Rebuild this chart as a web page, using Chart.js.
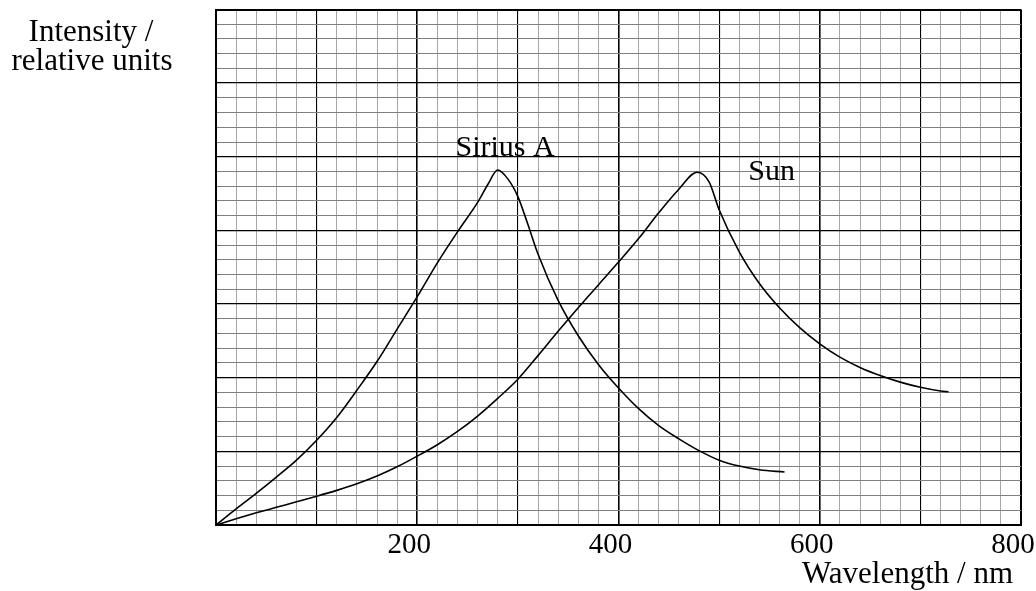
<!DOCTYPE html>
<html>
<head>
    <title>Intensity vs wavelength</title>
    <script src="https://cdn.jsdelivr.net/npm/chart.js"></script>
    <style>
        html, body { margin: 0; padding: 0; background: #fff; }
        #wrap { width: 1036px; height: 591px; position: relative; }
    </style>
</head>
<body>
    <div id="wrap"><canvas id="spectrum"></canvas></div>

    <script>
        // values
        const siriusX = [0, 20, 40, 60, 80, 100, 120, 140, 160, 180, 200, 220, 240, 260, 270, 280, 290, 300, 310, 320, 340, 360, 380, 400, 420, 440, 460, 480, 500, 520, 540, 565];
        const siriusY = [0, 0.22, 0.43, 0.65, 0.88, 1.15, 1.46, 1.83, 2.22, 2.66, 3.10, 3.56, 3.98, 4.38, 4.62, 4.82, 4.70, 4.46, 4.08, 3.68, 3.05, 2.57, 2.18, 1.86, 1.58, 1.35, 1.17, 1.01, 0.88, 0.80, 0.75, 0.72];

        const sunX = [0, 20, 40, 60, 80, 100, 120, 140, 160, 180, 200, 220, 240, 260, 280, 300, 320, 340, 360, 380, 400, 420, 440, 460, 478, 490, 500, 520, 540, 560, 580, 600, 620, 640, 660, 680, 700, 720, 728];
        const sunY = [0, 0.085, 0.165, 0.24, 0.315, 0.39, 0.47, 0.56, 0.665, 0.79, 0.935, 1.09, 1.27, 1.48, 1.72, 1.98, 2.30, 2.63, 2.95, 3.26, 3.57, 3.89, 4.24, 4.56, 4.79, 4.66, 4.28, 3.71, 3.28, 2.95, 2.68, 2.46, 2.28, 2.14, 2.03, 1.94, 1.87, 1.82, 1.81];

        const xLabels = [200, 400, 600, 800];
        const yTitle = ['Intensity /', 'relative units'];
        const xTitle = 'Wavelength / nm';
        const seriesNames = ['Sirius A', 'Sun'];
        // where the series names sit, in data units (left edge, baseline)
        const nameAt = [[238, 5.01], [529, 4.68]];

        const serif = "'Liberation Serif', 'Times New Roman', serif";

        function pairs(xs, ys) {
            return xs.map((x, i) => ({ x: x, y: ys[i] }));
        }

        // texts that are not ticks
        const textPlugin = {
            id: 'texts',
            afterDraw(chart) {
                const ctx = chart.ctx;
                const xs = chart.scales.x, ys = chart.scales.y;
                ctx.save();
                ctx.fillStyle = '#000';
                ctx.textBaseline = 'alphabetic';

                ctx.font = '31px ' + serif;
                ctx.textAlign = 'center';
                ctx.fillText(yTitle[0], 91, 41);
                ctx.fillText(yTitle[1], 92, 70);

                ctx.textAlign = 'right';
                ctx.fillText(xTitle, 1013, 583);

                ctx.font = '30px ' + serif;
                ctx.textAlign = 'left';
                seriesNames.forEach((name, i) => {
                    ctx.fillText(name, xs.getPixelForValue(nameAt[i][0]), ys.getPixelForValue(nameAt[i][1]));
                });
                ctx.restore();
            }
        };

        const lineStyle = {
            borderColor: '#000',
            borderWidth: 1.6,
            pointRadius: 0,
            fill: false,
            cubicInterpolationMode: 'monotone'
        };

        const chart = new Chart(document.getElementById('spectrum'), {
            type: 'line',
            data: {
                datasets: [
                    Object.assign({ label: seriesNames[0], data: pairs(siriusX, siriusY) }, lineStyle),
                    Object.assign({ label: seriesNames[1], data: pairs(sunX, sunY) }, lineStyle)
                ]
            },
            options: {
                responsive: true,
                maintainAspectRatio: false,
                animation: false,
                layout: { padding: { left: 216, right: 15, top: 9.5, bottom: 0 } },
                plugins: { legend: { display: false }, tooltip: { enabled: false } },
                scales: {
                    x: {
                        type: 'linear',
                        min: 0,
                        max: 800,
                        afterFit(axis) { axis.height = 66; axis.paddingLeft = 0; axis.paddingRight = 0; },
                        border: { display: true, color: '#000', width: 2 },
                        grid: {
                            drawTicks: false,
                            color: c => c.index % 5 === 0 ? '#000' : '#a6a6a6',
                            lineWidth: c => {
                                if (c.index === 0 || c.index === 40) return 2;
                                if (c.index % 10 === 0) return 1.6;
                                return c.index % 5 === 0 ? 1.1 : 1;
                            }
                        },
                        ticks: {
                            stepSize: 20,
                            autoSkip: false,
                            maxRotation: 0,
                            padding: 3,
                            labelOffset: -8,
                            color: '#000',
                            font: { family: serif, size: 29 },
                            callback: v => xLabels.includes(v) ? String(v) : ''
                        }
                    },
                    y: {
                        type: 'linear',
                        min: 0,
                        max: 7,
                        afterFit(axis) { axis.width = 0; },
                        border: { display: true, color: '#000', width: 2 },
                        grid: {
                            drawTicks: false,
                            color: c => c.index % 5 === 0 ? '#000' : '#808080',
                            lineWidth: c => {
                                if (c.index === 0 || c.index === 35) return 2;
                                return c.index % 5 === 0 ? 1.3 : 1.1;
                            }
                        },
                        ticks: { display: false, stepSize: 0.2, autoSkip: false }
                    }
                }
            },
            plugins: [textPlugin]
        });
    </script>
</body>
</html>
